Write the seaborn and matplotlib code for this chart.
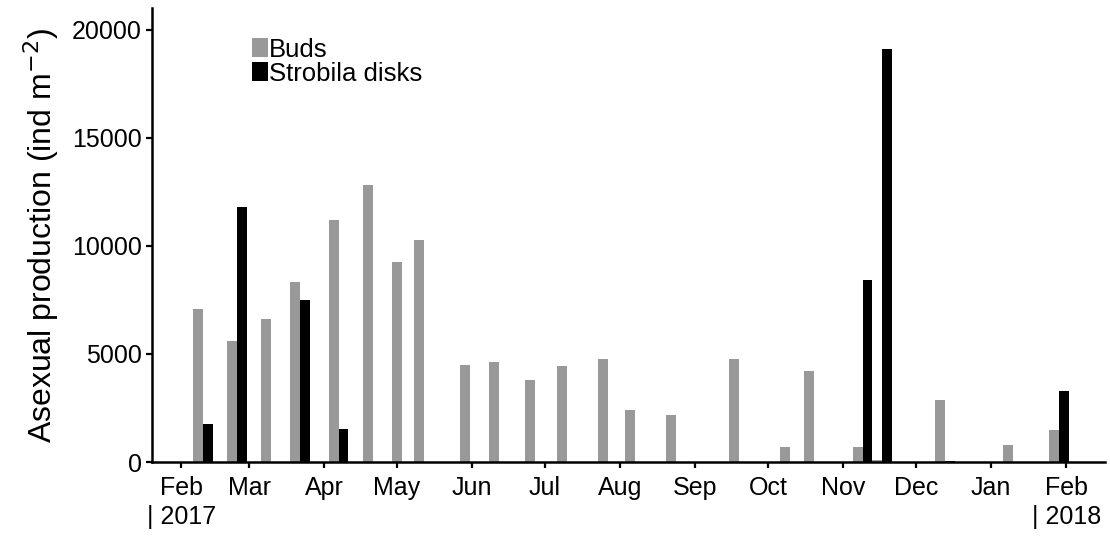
import numpy as np
import pandas as pd
import seaborn as sns
import matplotlib.pyplot as plt
import matplotlib.dates as mdates

# sampling dates and production values (ind m-2)
dates = ["2017-02-10", "2017-02-24", "2017-03-10", "2017-03-22", "2017-04-07",
         "2017-04-21", "2017-05-03", "2017-05-12", "2017-05-31", "2017-06-12",
         "2017-06-27", "2017-07-10", "2017-07-27", "2017-08-07", "2017-08-24",
         "2017-09-19", "2017-10-10", "2017-10-20", "2017-11-09", "2017-11-17",
         "2017-12-13", "2018-01-10", "2018-01-29"]
buds = [7100, 5600, 6600, 8350, 11200, 12800, 9250, 10250, 4480, 4630,
        3790, 4430, 4750, 2400, 2170, 4750, 690, 4200, 700, 80,
        2850, 790, 1480]
strobila = [1750, 11800, 0, 7500, 1550, 0, 0, 0, 0, 0,
            0, 0, 0, 0, 0, 0, 0, 0, 8400, 19100,
            60, 0, 3300]

tick_dates = ["2017-02-01", "2017-03-01", "2017-04-01", "2017-05-01", "2017-06-01",
              "2017-07-01", "2017-08-01", "2017-09-01", "2017-10-01", "2017-11-01",
              "2017-12-01", "2018-01-01", "2018-02-01"]
tick_labels = ["Feb\n| 2017", "Mar", "Apr", "May", "Jun", "Jul", "Aug", "Sep",
               "Oct", "Nov", "Dec", "Jan", "Feb\n| 2018"]

date_num = mdates.date2num(pd.to_datetime(dates))
df = pd.DataFrame({
    "date": np.concatenate([date_num, date_num]),
    "type": ["Buds"] * len(dates) + ["Strobila disks"] * len(dates),
    "value": buds + strobila,
})

sns.set_style("ticks")
plt.rcParams["font.family"] = ["Liberation Sans", "DejaVu Sans"]
plt.rcParams["text.color"] = "black"
plt.rcParams["axes.labelcolor"] = "black"

fig = plt.figure(figsize=(11.1, 5.36), dpi=100)
ax = fig.add_axes([0.137, 0.138, 0.8585, 0.847])

sns.barplot(data=df, x="date", y="value", hue="type", native_scale=True,
            palette={"Buds": "#999999", "Strobila disks": "#000000"},
            hue_order=["Buds", "Strobila disks"], width=1.0, errorbar=None,
            linewidth=0, ax=ax)

ax.set_xlim(mdates.date2num(pd.Timestamp("2017-01-20")),
            mdates.date2num(pd.Timestamp("2018-02-17")))
ax.set_ylim(0, 21000)
ax.set_xticks(mdates.date2num(pd.to_datetime(tick_dates)))
ax.set_xticklabels(tick_labels, linespacing=1.25)
ax.set_yticks([0, 5000, 10000, 15000, 20000])

ax.set_xlabel("")
ax.set_ylabel("Asexual production (ind m$^{-2}$)", fontsize=23, labelpad=8)
ax.tick_params(axis="both", labelsize=18, length=4, width=1.6, color="black",
               labelcolor="black")
ax.tick_params(axis="x", pad=6)
for side in ["top", "right"]:
    ax.spines[side].set_visible(False)
for side in ["left", "bottom"]:
    ax.spines[side].set_linewidth(1.8)
    ax.spines[side].set_color("black")

ax.legend(loc="upper left", bbox_to_anchor=(0.105, 0.935), frameon=False,
          fontsize=18.5, handlelength=0.6, handleheight=0.8, handletextpad=0.05,
          labelspacing=0.0, borderpad=0, borderaxespad=0)

fig.savefig("out.png", dpi=100)
